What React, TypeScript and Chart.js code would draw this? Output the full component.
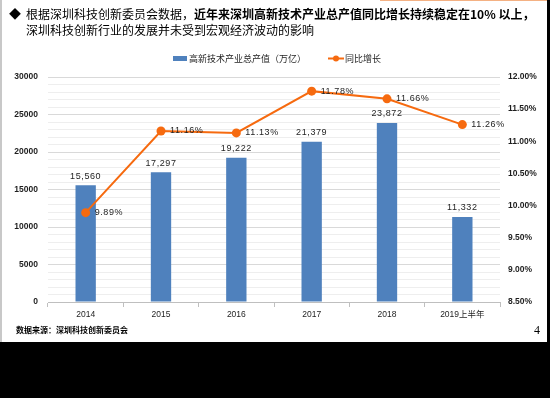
import React, { useEffect, useRef } from 'react';
import { Chart, registerables } from 'chart.js';

Chart.register(...registerables);

const categories = ['2014', '2015', '2016', '2017', '2018', '2019上半年'];
const outputValues = [15560, 17297, 19222, 21379, 23872, 11332];
const growthRates = [9.89, 11.16, 11.13, 11.78, 11.66, 11.26];
const barSeriesName = '高新技术产业总产值（万亿）';
const lineSeriesName = '同比增长';
const titleNormal = '根据深圳科技创新委员会数据，';
const titleBold = '近年来深圳高新技术产业总产值同比增长持续稳定在10% 以上，';
const titleLine2 = '深圳科技创新行业的发展并未受到宏观经济波动的影响';
const sourceText = '数据来源：深圳科技创新委员会';
const pageNumber = '4';

const BAR_COLOR = '#4f81bd';
const LINE_COLOR = '#f66a0f';
const TEXT_COLOR = '#1e1e1e';
const NUM_FONT = "'Liberation Sans', 'Noto Sans CJK SC', sans-serif";
const CJK_FONT = "'Noto Sans CJK SC', 'Liberation Sans', sans-serif";

const labelPlugin = {
  id: 'customLabels',
  afterDatasetsDraw(chart: any) {
    const ctx = chart.ctx as CanvasRenderingContext2D;
    ctx.save();
    ctx.fillStyle = TEXT_COLOR;
    ctx.font = `9px ${NUM_FONT}`;
    try { (ctx as any).letterSpacing = '0.6px'; } catch (e) {}
    ctx.textBaseline = 'middle';
    const barMeta = chart.getDatasetMeta(0);
    barMeta.data.forEach((el: any, i: number) => {
      ctx.textAlign = 'center';
      ctx.fillText(outputValues[i].toLocaleString('en-US'), el.x, el.y - 9);
    });
    const lineMeta = chart.getDatasetMeta(1);
    lineMeta.data.forEach((el: any, i: number) => {
      ctx.textAlign = 'left';
      ctx.fillText(growthRates[i].toFixed(2) + '%', el.x + 9, el.y);
    });
    ctx.restore();

    // legend
    ctx.save();
    try { (ctx as any).letterSpacing = '0px'; } catch (e) {}
    ctx.font = `9px ${CJK_FONT}`;
    ctx.fillStyle = TEXT_COLOR;
    ctx.textBaseline = 'middle';
    ctx.textAlign = 'left';
    const w1 = ctx.measureText(barSeriesName).width;
    const w2 = ctx.measureText(lineSeriesName).width;
    const total = 14 + 2 + w1 + 22 + 16 + 1 + w2;
    const ca = chart.chartArea;
    let x = (ca.left + ca.right) / 2 + 3 - total / 2;
    const y = 58.5;
    ctx.fillStyle = BAR_COLOR;
    ctx.fillRect(x, y - 2.5, 14, 5);
    x += 16;
    ctx.fillStyle = TEXT_COLOR;
    ctx.fillText(barSeriesName, x, y);
    x += w1 + 22;
    ctx.strokeStyle = LINE_COLOR;
    ctx.lineWidth = 2;
    ctx.beginPath();
    ctx.moveTo(x, y);
    ctx.lineTo(x + 16, y);
    ctx.stroke();
    ctx.fillStyle = LINE_COLOR;
    ctx.beginPath();
    ctx.arc(x + 8, y, 3, 0, Math.PI * 2);
    ctx.fill();
    x += 17;
    ctx.fillStyle = TEXT_COLOR;
    ctx.fillText(lineSeriesName, x, y);
    ctx.restore();
  },
};

function ChartCanvas() {
  const ref = useRef<HTMLCanvasElement | null>(null);
  useEffect(() => {
    if (!ref.current) return;
    const chart = new Chart(ref.current, {
      type: 'bar',
      data: {
        labels: categories,
        datasets: [
          {
            type: 'bar',
            label: barSeriesName,
            data: outputValues,
            backgroundColor: BAR_COLOR,
            barPercentage: 0.27,
            categoryPercentage: 1,
            yAxisID: 'y',
            order: 1,
          } as any,
          {
            type: 'line',
            label: lineSeriesName,
            data: growthRates,
            borderColor: LINE_COLOR,
            backgroundColor: LINE_COLOR,
            borderWidth: 2,
            pointRadius: 4.5,
            pointBorderWidth: 0,
            pointBackgroundColor: LINE_COLOR,
            tension: 0,
            yAxisID: 'y1',
            order: 0,
          } as any,
        ],
      },
      options: {
        responsive: false,
        animation: false,
        layout: { padding: { top: 77, left: 0, right: 0, bottom: 0 } },
        plugins: {
          legend: { display: false },
          tooltip: { enabled: false },
          title: { display: false },
        },
        scales: {
          x: {
            offset: true,
            grid: {
              display: true,
              drawOnChartArea: false,
              drawTicks: true,
              tickLength: 5,
              color: '#bfbfbf',
              offset: true,
            },
            border: { display: true, color: '#bfbfbf' },
            ticks: {
              font: { size: 8.5, family: NUM_FONT },
              color: TEXT_COLOR,
              padding: 3,
              maxRotation: 0,
              autoSkip: false,
            },
            afterFit: (s: any) => { s.height = 40; },
          },
          y: {
            position: 'left',
            min: 0,
            max: 30000,
            ticks: {
              stepSize: 1000,
              maxTicksLimit: 40,
              autoSkip: false,
              callback: (v: any) => (Number(v) % 5000 === 0 ? String(v) : ''),
              padding: 10,
              font: { size: 8.5, family: NUM_FONT, weight: 'bold' },
              color: TEXT_COLOR,
            },
            grid: {
              drawTicks: false,
              color: (c: any) => (c.tick && c.tick.value % 5000 === 0 ? '#d9d9d9' : '#eeeeee'),
              lineWidth: 1,
            },
            border: { display: false },
            afterFit: (s: any) => { s.width = 48; },
          },
          y1: {
            position: 'right',
            min: 8.5,
            max: 12,
            ticks: {
              stepSize: 0.5,
              callback: (v: any) => Number(v).toFixed(2) + '%',
              padding: 8,
              font: { size: 8.5, family: NUM_FONT, weight: 'bold' },
              color: TEXT_COLOR,
            },
            grid: { display: false, drawTicks: false },
            border: { display: false },
            afterFit: (s: any) => { s.width = 47; },
          },
        },
      } as any,
      plugins: [labelPlugin],
    });
    return () => chart.destroy();
  }, []);
  return (
    <canvas
      ref={ref}
      width={547}
      height={342}
      style={{ position: 'absolute', left: 0, top: 0, width: 547, height: 342 }}
    />
  );
}

export default function App() {
  return (
    <div style={{ position: 'fixed', left: 0, top: 0, width: 550, height: 398, background: '#000', overflow: 'hidden' }}>
      <div style={{ position: 'absolute', left: 0, top: 0, width: 547, height: 342, background: '#fff' }}>
        <div style={{ position: 'absolute', left: 0, top: 0, width: 2, height: 342, background: '#c8c8c8' }} />
        <div style={{ position: 'absolute', left: 380, top: 0, width: 167, height: 1, background: '#f4b183' }} />
        <ChartCanvas />
        <div style={{ position: 'absolute', left: 9, top: 6, fontSize: 12, lineHeight: '16px', fontFamily: CJK_FONT, color: '#000' }}>◆</div>
        <div style={{ position: 'absolute', left: 26, top: 6, fontSize: 12, lineHeight: '16px', fontFamily: CJK_FONT, color: '#000', whiteSpace: 'nowrap' }}>
          <div>
            {titleNormal}
            <span style={{ fontWeight: 'bold' }}>{titleBold}</span>
          </div>
          <div>{titleLine2}</div>
        </div>
        <div style={{ position: 'absolute', left: 16, top: 324, fontSize: 8, lineHeight: '12px', fontWeight: 'bold', fontFamily: CJK_FONT, color: '#000', whiteSpace: 'nowrap' }}>
          {sourceText}
        </div>
        <div style={{ position: 'absolute', left: 534, top: 323, fontSize: 12, lineHeight: '14px', fontFamily: "'Liberation Serif', serif", color: '#000' }}>
          {pageNumber}
        </div>
      </div>
    </div>
  );
}
